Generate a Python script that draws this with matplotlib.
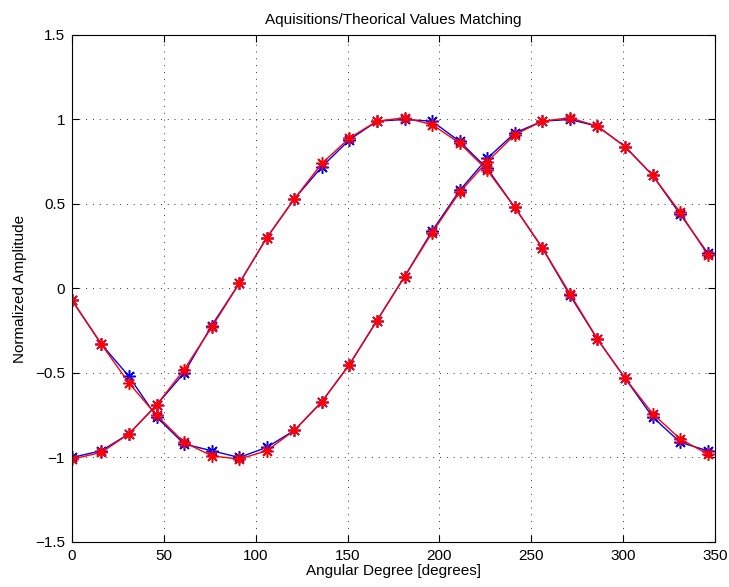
import numpy as np
import matplotlib
matplotlib.use("Agg")
import matplotlib.pyplot as plt
from matplotlib.ticker import FuncFormatter

plt.rcParams['font.family'] = ['Liberation Sans', 'DejaVu Sans']

# angular positions [degrees]
deg = [0, 16, 31, 46, 61, 76, 91, 106, 121, 136, 151, 166,
       181, 196, 211, 226, 241, 256, 271, 286, 301, 316, 331, 346]

# acquisitions (blue)
acq_1 = [-1.00, -0.96, -0.86, -0.69, -0.50, -0.22, 0.03, 0.30, 0.53, 0.72, 0.88, 0.99,
         1.00, 0.99, 0.87, 0.71, 0.48, 0.24, -0.04, -0.30, -0.53, -0.76, -0.91, -0.96]
acq_2 = [-0.07, -0.33, -0.52, -0.76, -0.92, -0.96, -1.00, -0.94, -0.84, -0.67, -0.45, -0.19,
         0.07, 0.34, 0.58, 0.77, 0.92, 0.99, 1.00, 0.96, 0.84, 0.67, 0.44, 0.21]

# theoretical values (red)
th_1 = [-1.01, -0.97, -0.86, -0.69, -0.48, -0.23, 0.03, 0.30, 0.53, 0.74, 0.89, 0.99,
        1.01, 0.97, 0.86, 0.70, 0.48, 0.24, -0.03, -0.30, -0.53, -0.74, -0.89, -0.98]
th_2 = [-0.07, -0.33, -0.56, -0.75, -0.91, -0.99, -1.01, -0.96, -0.84, -0.67, -0.45, -0.19,
        0.07, 0.33, 0.57, 0.75, 0.91, 0.99, 1.01, 0.96, 0.84, 0.67, 0.45, 0.20]

fig = plt.figure(figsize=(7.29, 5.87), dpi=100)
ax = fig.add_axes([0.0988, 0.0767, 0.8820, 0.8637])

# matlab-like asterisk marker (8 spokes)
ast = (8, 2, 0)
for y in (acq_1, acq_2):
    ax.plot(deg, y, color='blue', lw=1, marker=ast, ms=9, mew=1.1)
for y in (th_1, th_2):
    ax.plot(deg, y, color='red', lw=1, marker=ast, ms=9, mew=1.1)

ax.set_xlim(0, 350)
ax.set_ylim(-1.5, 1.5)
ax.set_xticks([0, 50, 100, 150, 200, 250, 300, 350])
ax.set_yticks([-1.5, -1, -0.5, 0, 0.5, 1, 1.5])
ax.yaxis.set_major_formatter(FuncFormatter(lambda v, p: ('%g' % v).replace('-', '\u2212')))
ax.tick_params(direction='in', length=5, width=0.8, labelsize=11, top=True, right=True, pad=5)
ax.grid(True, color='black', linestyle=(0, (1, 6)), linewidth=0.7, alpha=0.8)
for s in ax.spines.values():
    s.set_linewidth(0.8)

ax.set_title('Aquisitions/Theorical Values Matching', fontsize=11, pad=8)
ax.set_xlabel('Angular Degree [degrees]', fontsize=11, labelpad=1)
ax.set_ylabel('Normalized Amplitude', fontsize=11, labelpad=6)

fig.savefig('out.png', dpi=100)
